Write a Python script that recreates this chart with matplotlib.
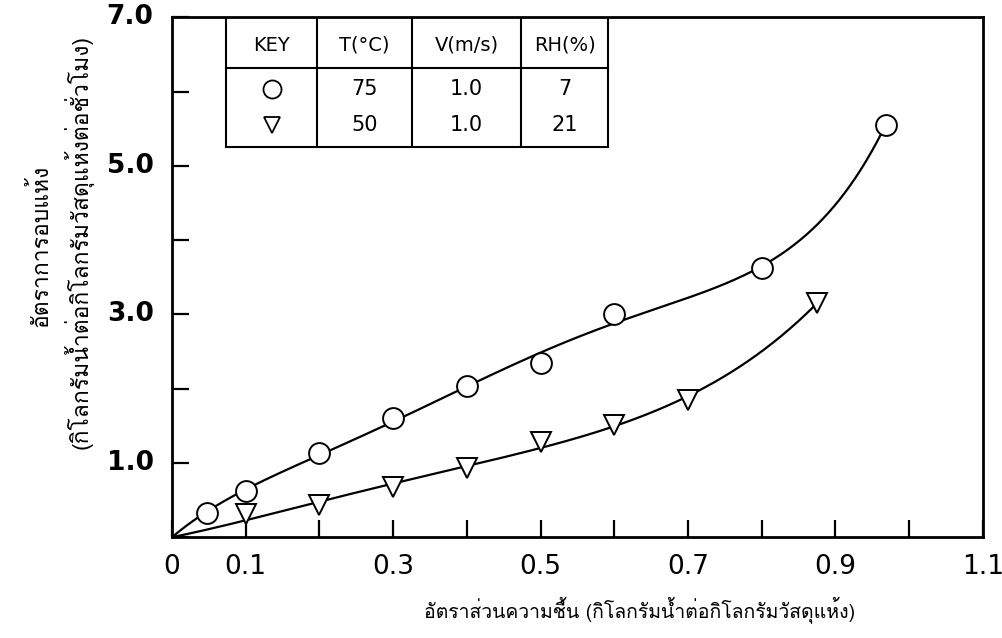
import matplotlib
matplotlib.use("Agg")
import matplotlib.pyplot as plt
from matplotlib import font_manager
from matplotlib.ft2font import FT2Font
import numpy as np

# moisture ratio (kg water / kg dry solid) vs drying rate
x_75 = [0.048, 0.10, 0.20, 0.30, 0.40, 0.50, 0.60, 0.80, 0.968]
y_75 = [0.32, 0.62, 1.13, 1.60, 2.03, 2.35, 3.00, 3.62, 5.55]
x_50 = [0.10, 0.20, 0.30, 0.40, 0.50, 0.60, 0.70, 0.875]
y_50 = [0.31, 0.44, 0.68, 0.93, 1.28, 1.51, 1.85, 3.15]

x_ticks_labeled = [0, 0.1, 0.3, 0.5, 0.7, 0.9, 1.1]
x_tick_text = ["0", "0.1", "0.3", "0.5", "0.7", "0.9", "1.1"]
y_ticks_labeled = [1, 3, 5, 7]
y_tick_text = ["1.0", "3.0", "5.0", "7.0"]

table_head = ["KEY", "T(°C)", "V(m/s)", "RH(%)"]
table_rows = [["o", "75", "1.0", "7"], ["v", "50", "1.0", "21"]]

xlabel = "อัตราส่วนความชื้น (กิโลกรัมน้ำต่อกิโลกรัมวัสดุแห้ง)"
ylabel1 = "อัตราการอบแห้ง"
ylabel2 = "(กิโลกรัมน้ำต่อกิโลกรัมวัสดุแห้งต่อชั่วโมง)"


def find_thai_family():
    for f in font_manager.fontManager.ttflist:
        try:
            if FT2Font(f.fname).get_char_index(0x0E01):
                return f.name
        except Exception:
            pass
    return None


thai = find_thai_family()
thai_fam = [thai, "DejaVu Sans"] if thai else ["DejaVu Sans"]


def trend(x, y, deg, xs):
    # least squares polynomial through the origin, last point weighted so the
    # curve ends on the final marker like the hand-drawn one
    x = np.asarray(x, float)
    y = np.asarray(y, float)
    w = np.ones_like(x)
    w[-1] = 6
    V = np.vstack([x**k for k in range(1, deg + 1)]).T
    coef, *_ = np.linalg.lstsq(V * w[:, None], y * w, rcond=None)
    return sum(c * xs**(k + 1) for k, c in enumerate(coef))


fig = plt.figure(figsize=(10.03, 6.38), dpi=100)
ax = fig.add_axes([0.1715, 0.158, 0.8085, 0.815])

for xs_, ys_, mk, deg in [(x_75, y_75, "o", 5), (x_50, y_50, "v", 4)]:
    xx = np.linspace(0, xs_[-1], 400)
    ax.plot(xx, trend(xs_, ys_, deg, xx), color="black", lw=1.6, zorder=2)
    ax.plot(xs_, ys_, mk, ms=15 if mk == "o" else 14, mfc="white", mec="black",
            mew=1.4, ls="none", zorder=3)

ax.set_xlim(0, 1.1)
ax.set_ylim(0, 7)
ax.set_xticks(np.arange(0, 1.11, 0.1))
ax.set_xticklabels([])
ax.set_yticks(np.arange(0, 7.1, 1))
ax.set_yticklabels([])
ax.tick_params(direction="in", length=12, width=1.6)
for v, s in zip(x_ticks_labeled, x_tick_text):
    ax.text(v, -0.22, s, ha="center", va="top", fontsize=19)
for v, s in zip(y_ticks_labeled, y_tick_text):
    ax.text(-0.025, v, s, ha="right", va="center", fontsize=19, fontweight="bold")
for sp in ax.spines.values():
    sp.set_linewidth(2)

# key table in the top-left corner
cols = [0.073, 0.197, 0.325, 0.474, 0.591]
y_top, y_mid, y_bot = 7.0, 6.31, 5.25
for c in cols:
    ax.plot([c, c], [y_bot, y_top], color="black", lw=1.5)
for r in [y_top, y_mid, y_bot]:
    ax.plot([cols[0], cols[-1]], [r, r], color="black", lw=1.5)
centers = [(cols[i] + cols[i + 1]) / 2 for i in range(4)]
for c, s in zip(centers, table_head):
    ax.text(c, 6.62, s, ha="center", va="center", fontsize=14)
for row, yr in zip(table_rows, [6.03, 5.55]):
    ax.plot(centers[0], yr, row[0], ms=13 if row[0] == "o" else 12,
            mfc="white", mec="black", mew=1.3)
    for c, s in zip(centers[1:], row[1:]):
        ax.text(c, yr, s, ha="center", va="center", fontsize=15)

fig.text(0.638, 0.045, xlabel, ha="center", va="center", fontsize=14,
         family=thai_fam)
fig.text(0.040, 0.614, ylabel1, ha="center", va="center", rotation=90,
         fontsize=16.5, family=thai_fam)
fig.text(0.078, 0.621, ylabel2, ha="center", va="center", rotation=90,
         fontsize=16.5, family=thai_fam)

fig.savefig("out.png", dpi=100)
